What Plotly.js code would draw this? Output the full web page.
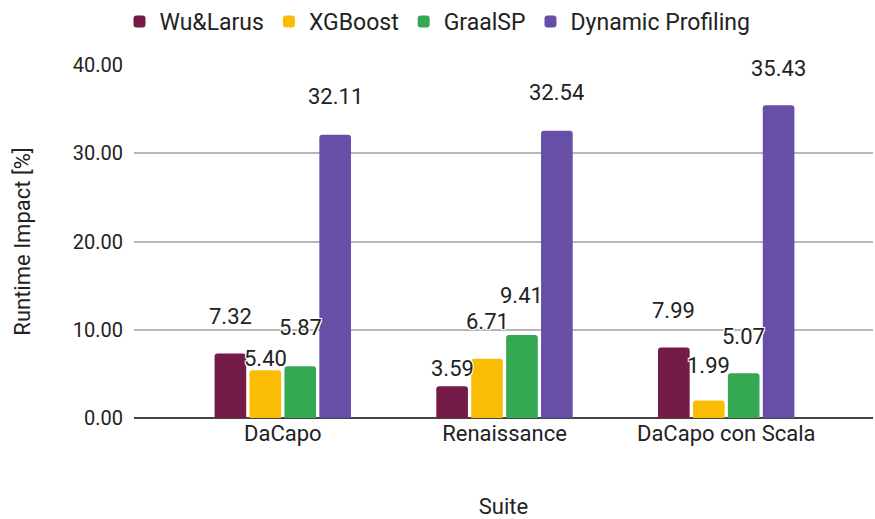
<!DOCTYPE html>
<html>
<head>
<meta charset="utf-8">
<script src="https://cdn.plot.ly/plotly-3.0.1.min.js"></script>
<style>html,body{margin:0;padding:0;background:#fff;}#chart{width:875px;height:519px;}</style>
</head>
<body>
<div id="chart"></div>
<script>
// ---- data ----
const suites = ["DaCapo", "Renaissance", "DaCapo con Scala"];
const seriesNames = ["Wu&Larus", "XGBoost", "GraalSP", "Dynamic Profiling"];
const wuLarus = [7.32, 3.59, 7.99];
const xgboost = [5.40, 6.71, 1.99];
const graalSP = [5.87, 9.41, 5.07];
const dynamicProfiling = [32.11, 32.54, 35.43];
const yTickValues = [0, 10, 20, 30, 40];

// ---- styling ----
const colors = ["#741b47", "#fbbc04", "#34a853", "#674ea7"];
const allSeries = [wuLarus, xgboost, graalSP, dynamicProfiling];
// vertical pixel lift of each value label above its bar (series x suite)
const labelLift = [
  [37, 18, 37],
  [12, 37, 35],
  [39, 39, 37],
  [38, 38, 37]
];
const bargap = 0.37, bargroupgap = 0.094;
const slot = (1 - bargap) / allSeries.length;
const fontFam = "Roboto, Arial, sans-serif";
const halo = "-1px -1px 0 #fff, 1px -1px 0 #fff, -1px 1px 0 #fff, 1px 1px 0 #fff, 0 0 2px #fff";

const traces = allSeries.map((vals, i) => ({
  type: "bar",
  name: seriesNames[i],
  x: suites,
  y: vals,
  marker: { color: colors[i], cornerradius: 3 },
  hoverinfo: "skip"
}));

const annotations = [];
allSeries.forEach((vals, i) => {
  vals.forEach((v, j) => {
    annotations.push({
      xref: "x", yref: "y",
      x: j + (i - (allSeries.length - 1) / 2) * slot,
      y: v,
      text: v.toFixed(2),
      showarrow: false,
      xanchor: "center", yanchor: "middle",
      yshift: labelLift[i][j],
      font: { family: fontFam, size: 22, color: "#222", shadow: halo }
    });
  });
});

const layout = {
  width: 875, height: 519,
  margin: { l: 134, r: 2, t: 65, b: 101 },
  paper_bgcolor: "#fff", plot_bgcolor: "#fff",
  bargap: bargap, bargroupgap: bargroupgap,
  barmode: "group",
  font: { family: fontFam, color: "#222" },
  showlegend: true,
  legend: {
    orientation: "h", xref: "container", yref: "container",
    x: 0.5, xanchor: "center", y: 1, yanchor: "top",
    font: { family: fontFam, size: 23, color: "#222" },
    traceorder: "normal", itemclick: false, itemdoubleclick: false
  },
  xaxis: {
    type: "category",
    range: [-0.671, 2.662],
    showgrid: false, zeroline: false, showline: false, ticks: "",
    tickfont: { family: fontFam, size: 22, color: "#222" },
    automargin: true,
    title: { text: "Suite", font: { family: fontFam, size: 22, color: "#222" }, standoff: 54 }
  },
  yaxis: {
    range: [0, 40],
    tickvals: yTickValues,
    tickformat: ".2f",
    showgrid: true, gridcolor: "#b7b7b7", gridwidth: 2,
    zeroline: true, zerolinecolor: "#444", zerolinewidth: 2,
    showline: false, ticks: "",
    ticklabelstandoff: 10,
    automargin: true,
    tickfont: { family: fontFam, size: 20, color: "#222" },
    title: { text: "Runtime Impact [%]", font: { family: fontFam, size: 22, color: "#222" }, standoff: 36 }
  },
  annotations: annotations
};

Plotly.newPlot("chart", traces, layout, { displayModeBar: false, staticPlot: true });
</script>
</body>
</html>
